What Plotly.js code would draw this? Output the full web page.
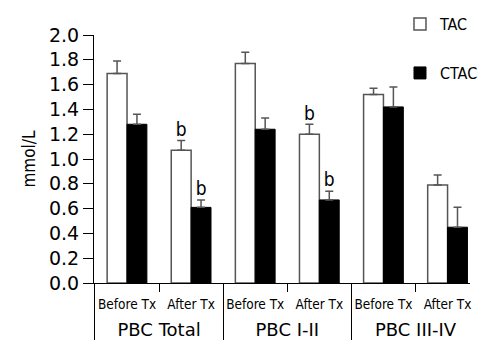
<!DOCTYPE html>
<html>
<head>
<meta charset="utf-8">
<script src="https://cdn.plot.ly/plotly-3.0.1.min.js"></script>
<style>html,body{margin:0;padding:0;background:#fff;}#chart{width:487px;height:342px;}</style>
</head>
<body>
<div id="chart"></div>
<script>
// ---- data ----
const groups = ['PBC Total', 'PBC Total', 'PBC I-II', 'PBC I-II', 'PBC III-IV', 'PBC III-IV'];
const phases = ['Before Tx', 'After Tx', 'Before Tx', 'After Tx', 'Before Tx', 'After Tx'];
const tac = [1.69, 1.07, 1.77, 1.20, 1.52, 0.79];
const tacErr = [0.10, 0.08, 0.09, 0.08, 0.05, 0.08];
const ctac = [1.28, 0.61, 1.24, 0.67, 1.42, 0.45];
const ctacErr = [0.08, 0.06, 0.09, 0.07, 0.16, 0.16];
const tacMark = ['', 'b', '', 'b', '', ''];
const ctacMark = ['', 'b', '', 'b', '', ''];
const yTicks = [0, 0.2, 0.4, 0.6, 0.8, 1.0, 1.2, 1.4, 1.6, 1.8, 2.0];

// ---- build ----
const COND = '"DejaVu Sans Condensed", "DejaVu Sans", sans-serif';
const REG = '"DejaVu Sans", sans-serif';
const outer = groups.map(g => '<br><span style="font-family:\'DejaVu Sans\';font-size:18px">' + g + '</span>');
const xcat = [outer, phases];
const zeros = tac.map(() => 0);

const traces = [
  {
    type: 'bar', name: 'TAC', x: xcat, y: tac, legendgroup: 'a',
    marker: {color: '#ffffff', line: {color: '#555555', width: 1.5}},
    error_y: {type: 'data', symmetric: false, array: tacErr, arrayminus: zeros,
              color: '#555555', thickness: 1.5, width: 4}
  },
  {
    type: 'bar', name: 'CTAC', x: xcat, y: ctac, legendgroup: 'b',
    marker: {color: '#000000', line: {color: '#000000', width: 1}},
    error_y: {type: 'data', symmetric: false, array: ctacErr, arrayminus: zeros,
              color: '#555555', thickness: 1.5, width: 4}
  },
  {
    type: 'scatter', mode: 'text', x: xcat, y: tac.map((v, i) => v + tacErr[i]),
    text: tacMark, textposition: 'top center', showlegend: false, hoverinfo: 'skip',
    textfont: {family: COND, size: 19, color: '#000'}, cliponaxis: false
  },
  {
    type: 'scatter', mode: 'text', x: xcat, y: ctac.map((v, i) => v + ctacErr[i]),
    text: ctacMark, textposition: 'top center', showlegend: false, hoverinfo: 'skip',
    textfont: {family: COND, size: 19, color: '#000'}, cliponaxis: false
  }
];

const layout = {
  width: 487, height: 342,
  margin: {l: 94, r: 17, t: 35, b: 59, autoexpand: false},
  paper_bgcolor: '#fff', plot_bgcolor: '#fff',
  font: {family: COND, color: '#000', size: 14},
  barmode: 'group', bargap: 0.38, bargroupgap: 0,
  scattermode: 'group',
  showlegend: true,
  legend: {x: 0.8138, y: 1.112, xanchor: 'left', yanchor: 'top',
           traceorder: 'grouped', tracegroupgap: 25,
           font: {family: COND, size: 16, color: '#000'}, bgcolor: 'rgba(0,0,0,0)'},
  xaxis: {
    type: 'multicategory', range: [-0.515, 5.35], tickangle: 0,
    showline: true, linecolor: '#000', linewidth: 1,
    ticks: 'outside', tickson: 'boundaries', ticklen: 8, tickcolor: '#000',
    ticklabelstandoff: 9,
    showdividers: true, dividercolor: '#000', dividerwidth: 1,
    tickfont: {family: COND, size: 13.5, color: '#000'},
    showgrid: false, zeroline: false
  },
  yaxis: {
    range: [0, 2.0], tickvals: yTicks, tickformat: '.1f',
    showline: true, linecolor: '#000', linewidth: 1,
    ticks: 'outside', ticklen: 10, tickcolor: '#000',
    tickfont: {family: REG, size: 19, color: '#000'},
    showgrid: false, zeroline: false,
    title: {text: 'mmol/L', font: {family: COND, size: 17, color: '#000'}, standoff: 9}
  }
};

Plotly.newPlot('chart', traces, layout, {displayModeBar: false, staticPlot: true});
</script>
</body>
</html>
